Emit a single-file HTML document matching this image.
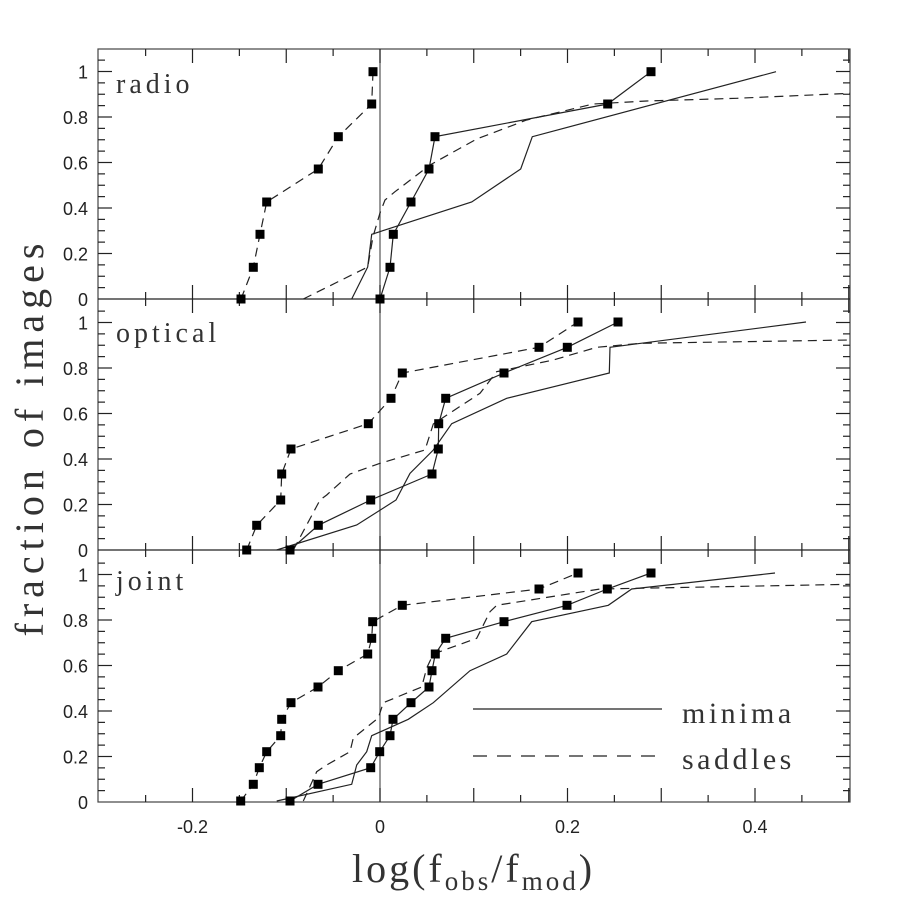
<!DOCTYPE html>
<html><head><meta charset="utf-8"><style>
html,body{margin:0;padding:0;background:#fff;}
svg{display:block;}
.ser{font-family:"Liberation Serif",serif;fill:#333;}
.san{font-family:"Liberation Sans",sans-serif;fill:#222;font-size:18px;}
</style></head><body>
<svg id="s" width="897" height="897" viewBox="0 0 897 897" xmlns="http://www.w3.org/2000/svg">
<g fill="none" stroke="#222" stroke-width="1.2">
<rect x="98" y="49" width="752" height="753" stroke="#444"/>
<line x1="98" y1="299" x2="850" y2="299"/>
<line x1="98" y1="550" x2="850" y2="550"/>
<line x1="380" y1="49" x2="380" y2="802" stroke="#555"/>
<g id="ticks"></g>
<polyline stroke-dasharray="9,6" points="241,299 253.3,267.3 260,234.3 266.7,202 318.3,169 338.3,136.7 371.7,104 373,71.7"/>
<polyline points="380,299 390,267.3 393.3,234.3 411,202 429,169 435,136.7 607.7,104 651,71.7"/>
<polyline points="351.7,299 367.7,267 371.7,234.3 471.7,202 520.7,169 532.3,136.7 776,71.7"/>
<polyline stroke-dasharray="9,6" points="303.3,299 367.7,267 373,236.7 380,213 385,200 395,191.7 430,165 476.7,139 526.7,120 593,104 646.7,101 736.7,98.3 850,93.3"/>
<polyline stroke-dasharray="9,6" points="246.7,550 256.7,525.3 280.7,500 281.7,474 291,449 368.3,423.7 391,398.3 402.3,373 539,347.3 578,322"/>
<polyline points="290,550 318.3,525.3 370.7,500 432,474 438.3,449 438.7,423.7 445.7,398.3 504,373 567.3,347.3 618,322"/>
<polyline points="276.7,550 356.7,525 396,500 410,473.3 433.3,450 451.7,423.7 506.7,398.3 609.3,373 610,347.3 806,322"/>
<polyline stroke-dasharray="9,6" points="293.3,550 320,500 326.7,495 350,474 380,463.3 425,450 433.3,424 480,393.3 496.7,371.7 553.3,360 596.7,347.3 640,343.3 850,340"/>
<polyline stroke-dasharray="9,6" points="240.7,801 253.3,784.3 259.3,767.7 266.7,751.7 280.7,735.7 281.7,719.3 291,702.7 318,687 338.3,670.7 367.7,654 371.7,638.3 372.7,621.7 402.3,605.3 539,589 578,573"/>
<polyline points="290,801 318,784.3 370.7,767.7 379.7,751.7 390,735.7 393,719.3 411,702.7 429,687 432,670.7 435.3,654 445.7,638.3 504,621.7 567,605.3 607.3,589 651,573"/>
<polyline points="276.7,801 351.7,784.3 356.7,765 366.7,751.7 371.7,735.7 408.3,719.3 433.3,702.7 470,670.7 506.7,654 531.7,621.7 608.3,605.3 631.7,589 775,573"/>
<polyline stroke-dasharray="9,6" points="303.3,801 316.7,771.7 326.7,765 350,751.7 353.3,738 378.3,718 383.3,702.7 421.7,687 426.7,668 433.3,654 476.7,638.3 490,611.7 496.7,605.3 600,589 850,584.3"/>
<line x1="473" y1="709" x2="662" y2="709"/>
<line x1="473" y1="756" x2="662" y2="756" stroke-dasharray="14,10"/>
</g>
<g id="marks" fill="#000"></g>
<g class="ser" font-size="28">
<text x="116" y="93" letter-spacing="4">radio</text>
<text x="116" y="342" letter-spacing="4">optical</text>
<text x="116" y="590" letter-spacing="4">joint</text>
<text x="682" y="723" font-size="30" letter-spacing="3.5">minima</text>
<text x="682" y="769" font-size="30" letter-spacing="3.5">saddles</text>
</g>
<text class="ser" font-size="40" letter-spacing="6" transform="translate(43,437) rotate(-90)" text-anchor="middle" fill="#555">fraction of images</text>
<text class="ser" font-size="40" x="352" y="882" letter-spacing="3">log(f<tspan font-size="27" dy="8">obs</tspan><tspan dy="-8">/f</tspan><tspan font-size="27" dy="8">mod</tspan><tspan dy="-8">)</tspan></text>
<g id="lbl" class="san"></g>
</svg>
<script>
var NS="http://www.w3.org/2000/svg";
function el(p,t,a,txt){var e=document.createElementNS(NS,t);for(var k in a)e.setAttribute(k,a[k]);if(txt!==undefined)e.textContent=txt;document.getElementById(p).appendChild(e);}
var X=function(v){return 380+v*937.5;};
var tops=[49,299,550],bots=[299,550,802],zeros=[299,550,802];
for(var i=-6;i<=10;i++){var x=X(i*0.05);if(x<99||x>849)continue;var L=(i%2==0)?14:7;
 for(var p=0;p<3;p++){el("ticks","line",{x1:x,y1:bots[p],x2:x,y2:bots[p]-L});el("ticks","line",{x1:x,y1:tops[p],x2:x,y2:tops[p]+L});}}
for(var p=0;p<3;p++){var z=zeros[p];for(var j=1;j<=21;j++){var y=z-j*0.05*227.5;if(y<=tops[p]+1)continue;var L=(j%4==0)?14:7;
 el("ticks","line",{x1:98,y1:y,x2:98+L,y2:y});el("ticks","line",{x1:850,y1:y,x2:850-L,y2:y});}
 var labs=[["0",0],["0.2",0.2],["0.4",0.4],["0.6",0.6],["0.8",0.8],["1",1]];
 labs.forEach(function(l){el("lbl","text",{x:88,y:z-l[1]*227.5+7,"text-anchor":"end"},l[0]);});}
[["-0.2",-0.2],["0",0],["0.2",0.2],["0.4",0.4]].forEach(function(l){el("lbl","text",{x:X(l[1]),y:833,"text-anchor":"middle"},l[0]);});
var M=[[241,299],[253.3,267.3],[260,234.3],[266.7,202],[318.3,169],[338.3,136.7],[371.7,104],[373,71.7],
[380,299],[390,267.3],[393.3,234.3],[411,202],[429,169],[435,136.7],[607.7,104],[651,71.7],
[246.7,550],[256.7,525.3],[280.7,500],[281.7,474],[291,449],[368.3,423.7],[391,398.3],[402.3,373],[539,347.3],[578,322],
[290,550],[318.3,525.3],[370.7,500],[432,474],[438.3,449],[438.7,423.7],[445.7,398.3],[504,373],[567.3,347.3],[618,322],
[240.7,801],[253.3,784.3],[259.3,767.7],[266.7,751.7],[280.7,735.7],[281.7,719.3],[291,702.7],[318,687],[338.3,670.7],[367.7,654],[371.7,638.3],[372.7,621.7],[402.3,605.3],[539,589],[578,573],
[290,801],[318,784.3],[370.7,767.7],[379.7,751.7],[390,735.7],[393,719.3],[411,702.7],[429,687],[432,670.7],[435.3,654],[445.7,638.3],[504,621.7],[567,605.3],[607.3,589],[651,573]];
M.forEach(function(m){el("marks","rect",{x:m[0]-4.5,y:m[1]-4.5,width:9,height:9});});
</script>
</body></html>
